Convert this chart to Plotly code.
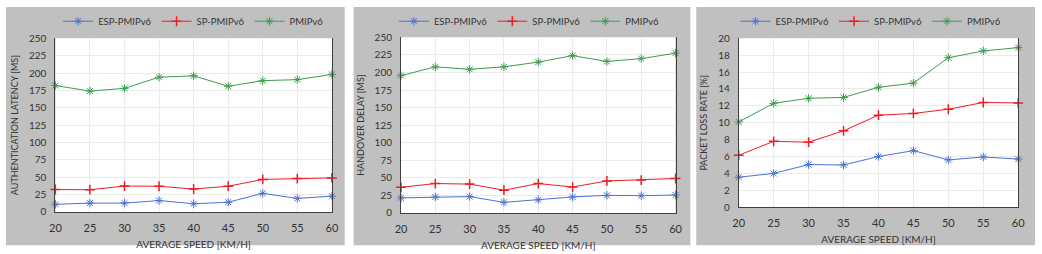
import plotly.graph_objects as go

speeds = [20, 25, 30, 35, 40, 45, 50, 55, 60]

# Panel 1: authentication latency [ms]
auth_esp = [11, 12.7, 12.7, 16.4, 11.8, 14, 26.8, 19.5, 22.7]
auth_sp = [32.3, 32, 37.3, 37, 33, 37, 46.8, 48, 49]
auth_pm = [182, 174, 178, 194, 196, 181, 189, 190.5, 198]

# Panel 2: handover delay [ms]
ho_esp = [21.4, 22.7, 23.2, 15, 18.6, 22.7, 25, 24.5, 25.5]
ho_sp = [36.4, 41.8, 41, 32.3, 41.8, 36.8, 45.5, 46.8, 49]
ho_pm = [195.5, 208, 204.5, 208, 214.8, 224, 215.7, 219.7, 227.5]

# Panel 3: packet loss rate [%]
pl_esp = [3.55, 4.0, 5.05, 5.0, 6.0, 6.7, 5.6, 5.95, 5.7]
pl_sp = [6.15, 7.8, 7.7, 9.05, 10.9, 11.1, 11.6, 12.4, 12.35]
pl_pm = [10.1, 12.3, 12.9, 13.0, 14.2, 14.7, 17.7, 18.5, 18.9]

series_names = ["ESP-PMIPv6", "SP-PMIPv6", "PMIPv6"]
x_tick_labels = ["20", "25", "30", "35", "40", "45", "50", "55", "60"]
y_titles = ["AUTHENTICATION LATENCY [MS]", "HANDOVER DELAY [MS]", "PACKET LOSS RATE [%]"]
x_title = "AVERAGE SPEED [KM/H]"

colors = ["#4a72d4", "#ee1c25", "#3f9b4f"]
symbols = ["asterisk-open", "cross-thin-open", "asterisk-open"]

W, H = 1042, 254
FONT = "Lato"
TXT = "#333333"

panels = [
    dict(data=[auth_esp, auth_sp, auth_pm], yrange=[0, 250], dtick=25,
         px=(50, 330), py=(33, 216), bg=(0, 343), leg=190),
    dict(data=[ho_esp, ho_sp, ho_pm], yrange=[0, 250], dtick=25,
         px=(400, 678), py=(32, 217), bg=(352, 693), leg=530),
    dict(data=[pl_esp, pl_sp, pl_pm], yrange=[0, 20], dtick=2,
         px=(742, 1025), py=(33, 211), bg=(699, 1042), leg=876),
]

fig = go.Figure()
layout = dict(
    width=W, height=H, margin=dict(l=0, r=0, t=0, b=0),
    paper_bgcolor="white", plot_bgcolor="white",
    font=dict(family=FONT, size=10, color=TXT),
    shapes=[],
)

for i, p in enumerate(panels):
    n = "" if i == 0 else str(i + 1)
    xa = "x" + n
    ya = "y" + n
    leg = "legend" + n
    for j in range(3):
        fig.add_trace(go.Scatter(
            x=speeds, y=p["data"][j], name=series_names[j],
            mode="lines+markers", xaxis=xa, yaxis=ya, legend=leg,
            line=dict(color=colors[j], width=1),
            marker=dict(symbol=symbols[j], size=7, color=colors[j],
                        line=dict(color=colors[j], width=1.5 if j == 1 else 1)),
            cliponaxis=False,
        ))
    layout["xaxis" + n] = dict(
        domain=[p["px"][0] / W, p["px"][1] / W], anchor=ya,
        range=[20, 60], tickmode="array", tickvals=speeds, ticktext=x_tick_labels,
        showgrid=True, gridcolor="#ebebeb", gridwidth=1, zeroline=False,
        showline=True, linecolor="#404040", linewidth=1, mirror=False,
        ticks="", ticklabelstandoff=6, tickfont=dict(size=11, color=TXT),
        title=dict(text=x_title, font=dict(size=10, color=TXT), standoff=7),
    )
    layout["yaxis" + n] = dict(
        domain=[(H - p["py"][1]) / H, (H - p["py"][0]) / H], anchor=xa,
        range=p["yrange"], dtick=p["dtick"], tick0=0,
        showgrid=True, gridcolor="#ebebeb", gridwidth=1, zeroline=False,
        showline=True, linecolor="#404040", linewidth=1, mirror=True,
        ticks="", ticklabelstandoff=6, tickfont=dict(size=10, color=TXT),
        title=dict(text=y_titles[i], font=dict(size=9, color=TXT), standoff=8),
    )
    layout[leg] = dict(
        orientation="h", x=p["leg"] / W, xanchor="center",
        y=(H - 15) / H, yanchor="middle", bgcolor="rgba(0,0,0,0)",
        font=dict(size=9.5, color=TXT), itemwidth=30, tracegroupgap=0,
    )
    layout["shapes"].append(dict(
        type="rect", xref="paper", yref="paper",
        x0=p["bg"][0] / W, x1=p["bg"][1] / W, y0=(H - 251) / H, y1=1,
        fillcolor="#c0c0c0", line=dict(width=0), layer="below",
    ))
    layout["shapes"].append(dict(
        type="rect", xref="paper", yref="paper",
        x0=p["px"][0] / W, x1=p["px"][1] / W,
        y0=(H - p["py"][1]) / H, y1=(H - p["py"][0]) / H,
        fillcolor="white", line=dict(width=0), layer="below",
    ))

fig.update_layout(**layout)
fig.write_html("out.html")
